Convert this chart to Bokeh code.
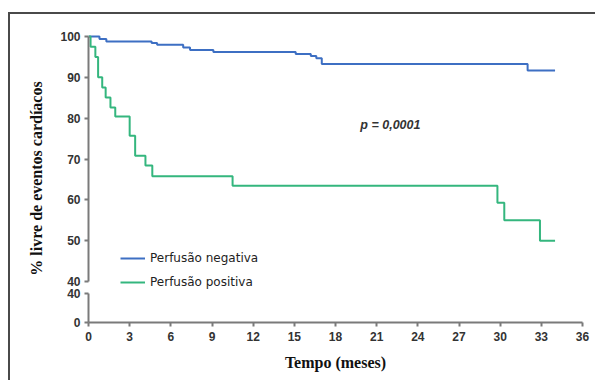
from bokeh.plotting import figure
from bokeh.models import FixedTicker, Label, Legend, LegendItem, ColumnDataSource, LinearAxis
from bokeh.embed import file_html
from bokeh.resources import INLINE

# ---- data ----
neg_time = [0, 0.8, 1.3, 4.6, 5.0, 6.9, 7.4, 9.1, 15.1, 16.2, 16.6, 17.0, 32.0, 34.0]
neg_surv = [100, 99.4, 98.8, 98.4, 98.0, 97.3, 96.7, 96.2, 95.7, 95.2, 94.7, 93.3, 91.7, 91.7]

pos_time = [0, 0.15, 0.5, 0.7, 1.0, 1.25, 1.6, 1.95, 3.0, 3.4, 4.15, 4.65, 10.5, 29.8, 30.3, 32.9, 34.0]
pos_surv = [100, 97.5, 95.0, 90.0, 87.5, 85.1, 82.6, 80.4, 75.7, 70.8, 68.4, 65.8, 63.5, 59.3, 55.0, 50.0, 50.0]

series_names = ["Perfusão negativa", "Perfusão positiva"]
x_ticks = list(range(0, 37, 3))
upper_ticks = [40, 50, 60, 70, 80, 90, 100]
lower_tick_labels = ["0", "40"]          # broken-axis lower segment (0 .. 40)
p_text = "p = 0,0001"

# ---- broken axis layout (lower segment 0..40 squeezed below the 40..100 segment) ----
lower_pos = [30, 37]                     # axis positions used for the lower segment's ticks

BLUE = "#3d6fc3"
GREEN = "#34b67e"
TXT = "#333333"
AXC = "#7a7a7a"

p = figure(width=587, height=368, x_range=(0, 36), y_range=(30, 100.49),
           output_backend="svg", toolbar_location=None,
           min_border_left=78, min_border_right=15, min_border_top=20, min_border_bottom=60)
p.styles = {"border-top": "2px solid #4a4a4a", "border-left": "2px solid #4a4a4a",
            "margin-top": "12px", "margin-left": "8px"}
p.outline_line_color = None
p.xgrid.visible = False
p.ygrid.visible = False
p.background_fill_color = "white"
p.border_fill_color = "white"

src_neg = ColumnDataSource(dict(t=neg_time, s=neg_surv))
src_pos = ColumnDataSource(dict(t=pos_time, s=pos_surv))
r1 = p.step("t", "s", source=src_neg, mode="after", line_color=BLUE, line_width=2)
r2 = p.step("t", "s", source=src_pos, mode="after", line_color=GREEN, line_width=2)

# axes
xa = p.xaxis[0]
xa.ticker = FixedTicker(ticks=x_ticks)
xa.bounds = (0, 36)
xa.axis_label = "Tempo (meses)"
ya = p.yaxis[0]
ya.ticker = FixedTicker(ticks=lower_pos + upper_ticks)
ya.major_label_overrides = {lower_pos[0]: lower_tick_labels[0], lower_pos[1]: lower_tick_labels[1]}
ya.bounds = (30, 100)
ya.axis_label = "% livre de eventos cardíacos"

for ax in (xa, ya):
    ax.axis_line_color = AXC
    ax.axis_line_width = 2
    ax.major_tick_line_color = AXC
    ax.major_tick_line_width = 2
    ax.major_tick_out = 4
    ax.major_tick_in = 0
    ax.minor_tick_line_color = None
    ax.major_label_text_font = "Liberation Sans"
    ax.major_label_text_font_style = "bold"
    ax.major_label_text_font_size = "12px"
    ax.major_label_text_color = TXT
    ax.axis_label_text_font = "Liberation Serif"
    ax.axis_label_text_font_style = "bold"
    ax.axis_label_text_font_size = "16px"
    ax.axis_label_text_color = "#111111"
xa.major_label_standoff = 5
xa.axis_label_standoff = 10
ya.major_label_standoff = 4
ya.axis_label_standoff = 12
ya.axis_line_color = None

# the broken y axis line: two line-only axes hugging the frame
def line_axis(lo, hi):
    a = LinearAxis(ticker=FixedTicker(ticks=[]), bounds=(lo, hi))
    a.axis_line_color = AXC
    a.axis_line_width = 2
    a.major_tick_line_color = None
    a.minor_tick_line_color = None
    a.major_tick_out = 0
    a.major_tick_in = 0
    a.major_label_text_font_size = "0px"
    a.major_label_standoff = 0
    return a

p.left = [line_axis(upper_ticks[0], upper_ticks[-1]), line_axis(lower_pos[0], lower_pos[1]), ya]

# p-value
p.add_layout(Label(x=22.0, y=78.4, text=p_text, text_align="center", text_baseline="middle",
                   text_font="Liberation Sans", text_font_style="bold italic",
                   text_font_size="12.5px", text_color=TXT))

legend = Legend(items=[LegendItem(label=series_names[0], renderers=[r1]),
                       LegendItem(label=series_names[1], renderers=[r2])],
                location=(32, 33), orientation="vertical",
                border_line_color=None, background_fill_alpha=0,
                padding=0, margin=0, spacing=10,
                glyph_width=25, glyph_height=14, label_height=14, label_standoff=5,
                label_text_font="DejaVu Sans", label_text_font_size="12px",
                label_text_color="#222222")
p.add_layout(legend)

open("out.html", "w").write(file_html(p, INLINE))
